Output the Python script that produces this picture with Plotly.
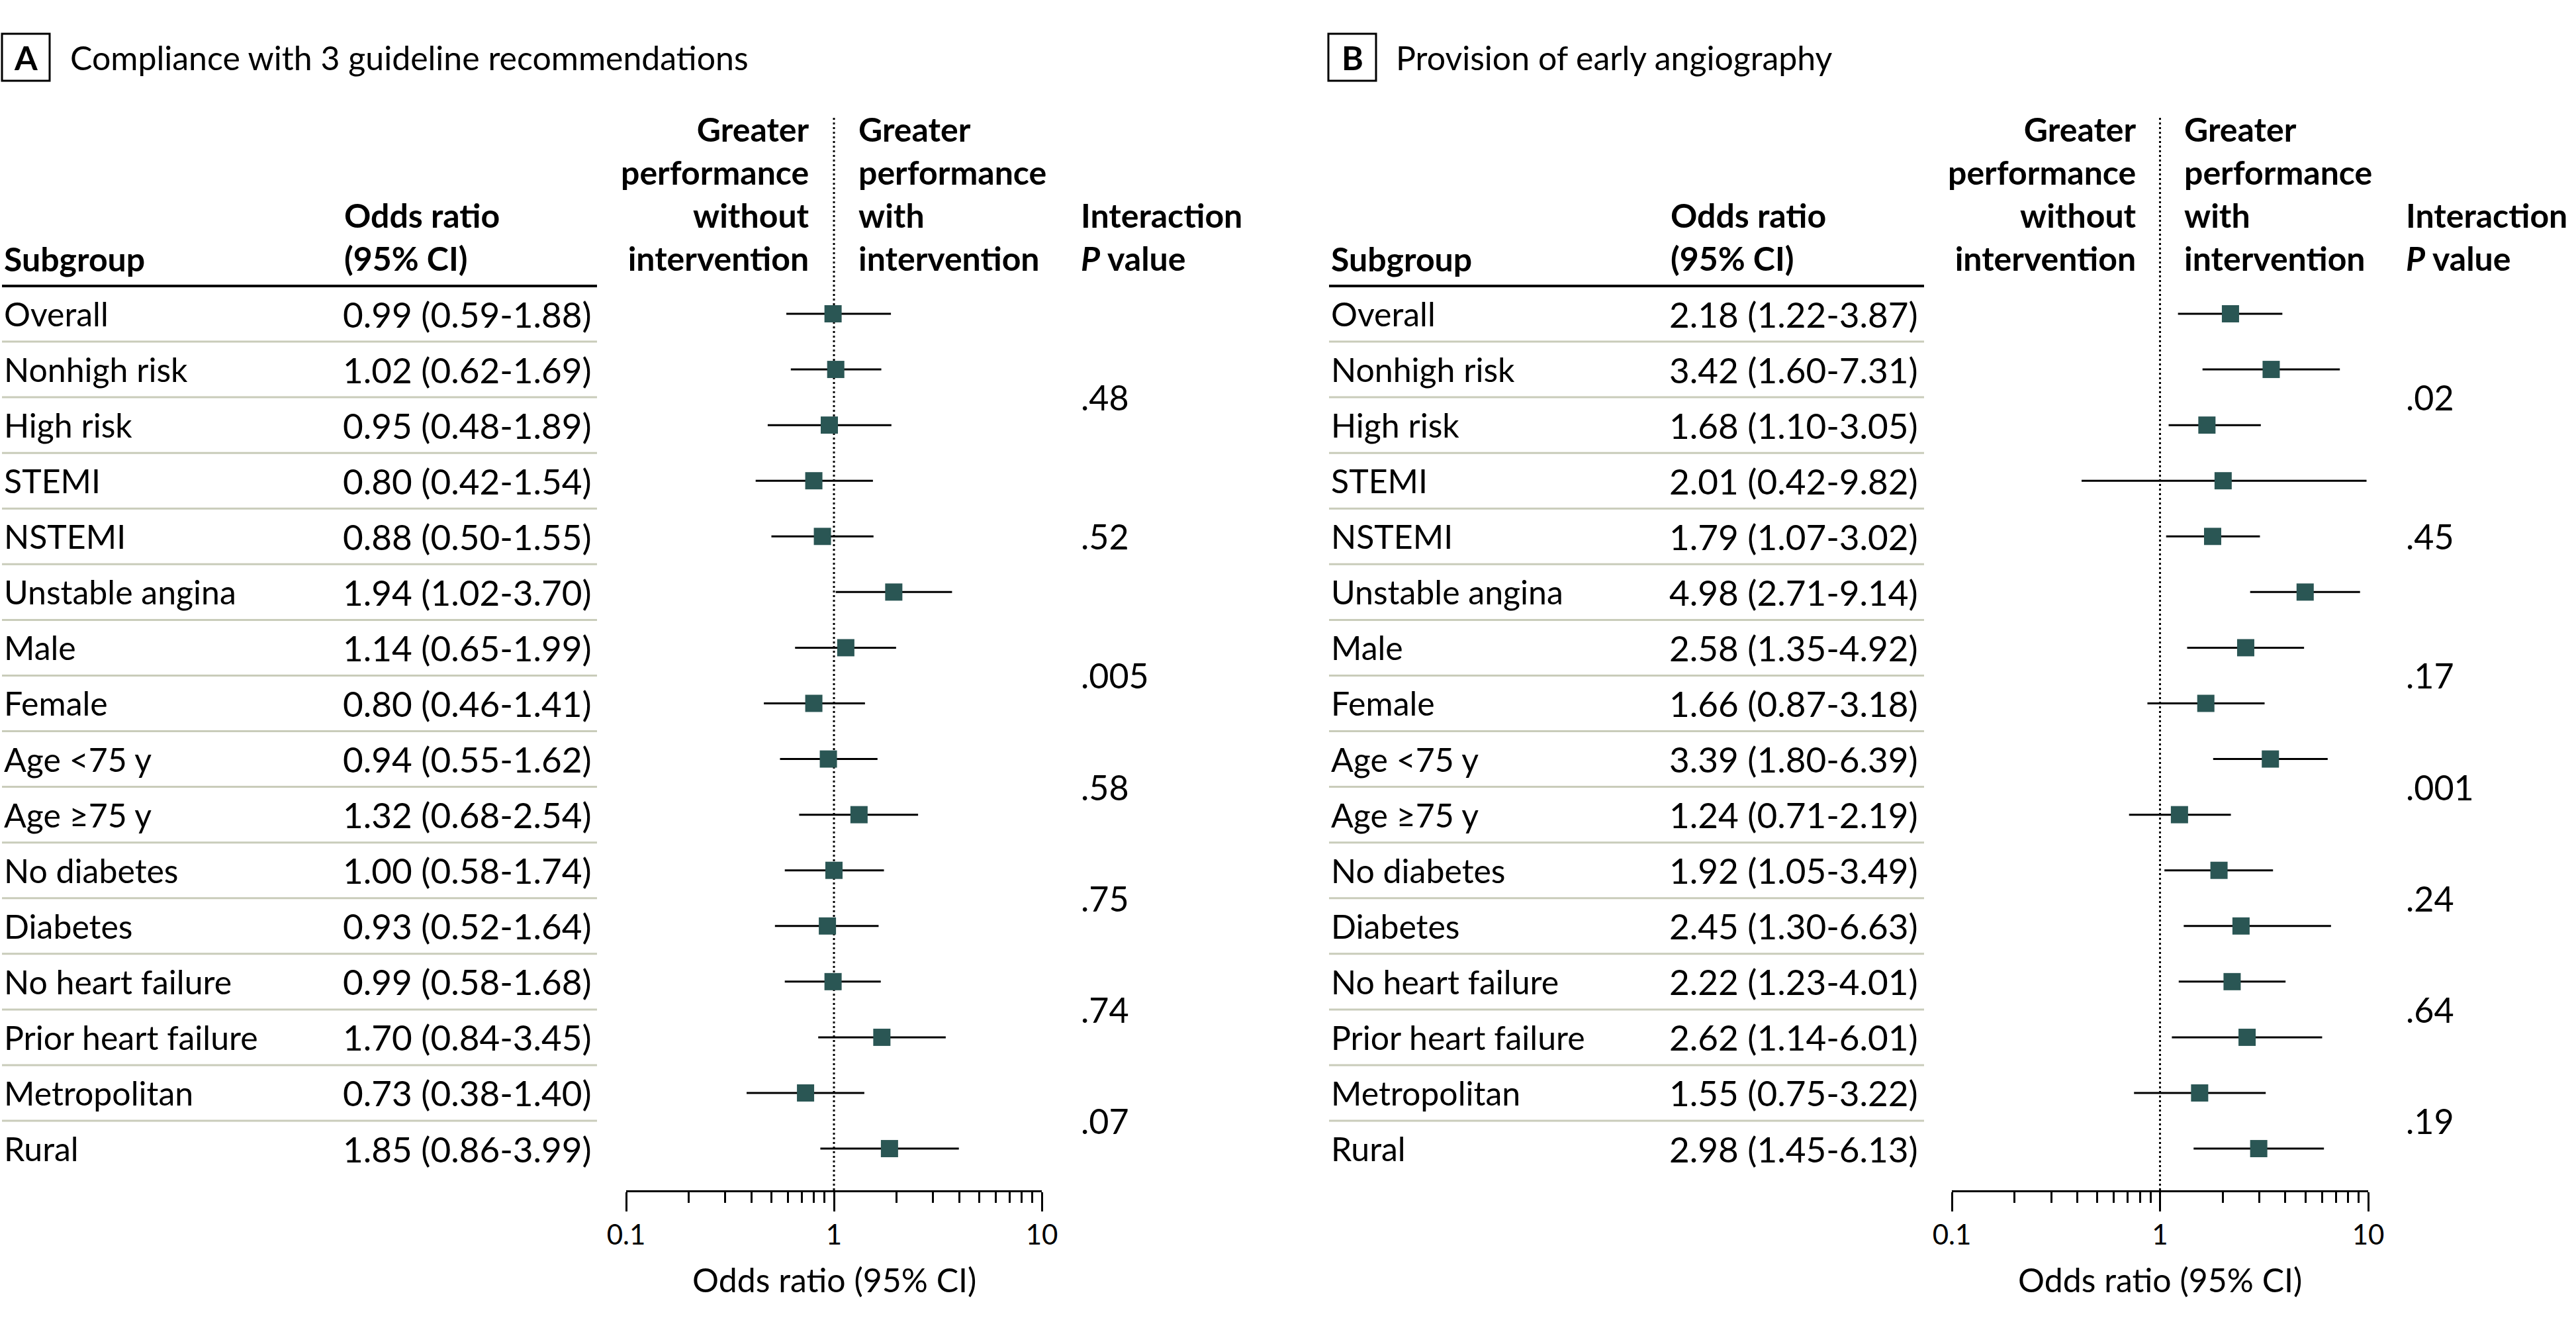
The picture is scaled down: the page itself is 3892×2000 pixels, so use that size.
import plotly.graph_objects as go

# ---------------- data ----------------
subgroups = ["Overall", "Nonhigh risk", "High risk", "STEMI", "NSTEMI", "Unstable angina",
             "Male", "Female", "Age <75 y", "Age ≥75 y", "No diabetes", "Diabetes",
             "No heart failure", "Prior heart failure", "Metropolitan", "Rural"]

a_or = [0.99, 1.02, 0.95, 0.80, 0.88, 1.94, 1.14, 0.80, 0.94, 1.32, 1.00, 0.93, 0.99, 1.70, 0.73, 1.85]
a_lo = [0.59, 0.62, 0.48, 0.42, 0.50, 1.02, 0.65, 0.46, 0.55, 0.68, 0.58, 0.52, 0.58, 0.84, 0.38, 0.86]
a_hi = [1.88, 1.69, 1.89, 1.54, 1.55, 3.70, 1.99, 1.41, 1.62, 2.54, 1.74, 1.64, 1.68, 3.45, 1.40, 3.99]

b_or = [2.18, 3.42, 1.68, 2.01, 1.79, 4.98, 2.58, 1.66, 3.39, 1.24, 1.92, 2.45, 2.22, 2.62, 1.55, 2.98]
b_lo = [1.22, 1.60, 1.10, 0.42, 1.07, 2.71, 1.35, 0.87, 1.80, 0.71, 1.05, 1.30, 1.23, 1.14, 0.75, 1.45]
b_hi = [3.87, 7.31, 3.05, 9.82, 3.02, 9.14, 4.92, 3.18, 6.39, 2.19, 3.49, 6.63, 4.01, 6.01, 3.22, 6.13]

# interaction P values and the (row) position between the rows of each pair
p_rows = [1.5, 4, 6.5, 8.5, 10.5, 12.5, 14.5]
a_p = [".48", ".52", ".005", ".58", ".75", ".74", ".07"]
b_p = [".02", ".45", ".17", ".001", ".24", ".64", ".19"]

tick_vals = [0.1, 1, 10]
tick_text = ["0.1", "1", "10"]
minor_ticks = [m * d for d in (0.1, 1) for m in range(2, 10)]

# ---------------- style / layout constants ----------------
W, H = 3892, 2000
FONT = "Lato, 'Open Sans', sans-serif"
TEAL = "#2a5654"
SEP = "#c9ccba"
FS = 50
FS_NUM = 53

ROW0_PX, ROW_STEP = 474, 84.07
AXIS_PX, TOP_PX = 1798, 175


def px(x):
    return x / W


def py(y):
    return 1 - y / H


def row_of(ypx):
    return (ypx - ROW0_PX) / ROW_STEP


Y_BOTTOM, Y_TOP = row_of(AXIS_PX), row_of(TOP_PX)

panels = [
    dict(letter="A", title="Compliance with 3 guideline recommendations",
         orv=a_or, lo=a_lo, hi=a_hi, pv=a_p, box=(3, 75), title_x=106, sub_x=6,
         rule=(3, 902), or_x=518, axis=(946, 1574), hl=1223, hr=1297, p_x=1633, xa="x"),
    dict(letter="B", title="Provision of early angiography",
         orv=b_or, lo=b_lo, hi=b_hi, pv=b_p, box=(2007, 2079), title_x=2109, sub_x=2011,
         rule=(2008, 2907), or_x=2522, axis=(2949, 3578), hl=3228, hr=3300, p_x=3635, xa="x2"),
]

fig = go.Figure()
annotations = []
shapes = []


def ann(text, x, y, xanchor="left", yanchor="middle", yref="paper", size=FS, align="left"):
    annotations.append(dict(text=text, x=x, y=y, xref="paper", yref=yref,
                            xanchor=xanchor, yanchor=yanchor, align=align, showarrow=False,
                            borderpad=0, borderwidth=0,
                            font=dict(family=FONT, size=size, color="black")))


rows = list(range(len(subgroups)))

for p in panels:
    xa = p["xa"]
    # reference line at OR = 1
    fig.add_trace(go.Scatter(x=[1, 1], y=[Y_BOTTOM, Y_TOP], mode="lines", xaxis=xa, yaxis="y",
                             line=dict(color="black", width=3, dash="3px,4px"),
                             hoverinfo="skip", showlegend=False))
    # odds ratios with CI
    fig.add_trace(go.Scatter(
        x=p["orv"], y=rows, mode="markers", xaxis=xa, yaxis="y", showlegend=False,
        marker=dict(symbol="square", size=26, color=TEAL, line=dict(width=0)),
        error_x=dict(type="data", symmetric=False,
                     array=[h - o for h, o in zip(p["hi"], p["orv"])],
                     arrayminus=[o - l for o, l in zip(p["orv"], p["lo"])],
                     width=0, thickness=3, color="black"),
    ))

    # title box and letter
    x0, x1 = p["box"]
    shapes.append(dict(type="rect", xref="paper", yref="paper", x0=px(x0), x1=px(x1),
                       y0=py(122), y1=py(51), line=dict(color="black", width=3)))
    ann("<b>%s</b>" % p["letter"], px((x0 + x1) / 2), py(87), xanchor="center")
    ann(p["title"], px(p["title_x"]), py(87))

    # column headers
    ann("<b>Subgroup</b>", px(p["sub_x"]), py(391))
    ann("<b>Odds ratio<br>(95% CI)</b>", px(p["or_x"] + 2), py(357))
    ann("<b>Greater<br>performance<br>without<br>intervention</b>", px(p["hl"]), py(292),
        xanchor="right", align="right")
    ann("<b>Greater<br>performance<br>with<br>intervention</b>", px(p["hr"]), py(292))
    ann("<b>Interaction<br><i>P</i> value</b>", px(p["p_x"]), py(357))

    # header rule
    r0, r1 = p["rule"]
    shapes.append(dict(type="line", xref="paper", yref="paper", x0=px(r0), x1=px(r1),
                       y0=py(432), y1=py(432), line=dict(color="black", width=4)))
    # row separators
    for i in rows[:-1]:
        shapes.append(dict(type="line", xref="paper", yref="y", x0=px(r0), x1=px(r1),
                           y0=i + 0.5, y1=i + 0.5, line=dict(color=SEP, width=3), layer="below"))

    # table text
    for i, name in enumerate(subgroups):
        ann(name, px(p["sub_x"]), i, yref="y")
        ann("%.2f (%.2f-%.2f)" % (p["orv"][i], p["lo"][i], p["hi"][i]), px(p["or_x"]), i,
            yref="y", size=FS_NUM)
    for r, t in zip(p_rows, p["pv"]):
        ann(t, px(p["p_x"]), r, yref="y", size=FS_NUM - 1)

    # axis title
    a0, a1 = p["axis"]
    ann("Odds ratio (95% CI)", px((a0 + a1) / 2), py(1933), xanchor="center")

axis_common = dict(
    type="log", range=[-1, 1], anchor="y", showline=True, linecolor="black", linewidth=3,
    ticks="outside", ticklen=29, tickwidth=3, tickcolor="black",
    tickvals=tick_vals, ticktext=tick_text,
    tickfont=dict(family=FONT, size=42, color="black"),
    showgrid=False, zeroline=False, fixedrange=True, automargin=False,
    minor=dict(tickvals=minor_ticks, ticks="outside", ticklen=16, tickwidth=3,
               tickcolor="black", showgrid=False),
)

fig.update_layout(
    width=W, height=H, autosize=False,
    margin=dict(l=0, r=0, t=0, b=0, pad=0, autoexpand=False),
    paper_bgcolor="white", plot_bgcolor="rgba(0,0,0,0)",
    font=dict(family=FONT, size=FS, color="black"),
    xaxis=dict(domain=[px(panels[0]["axis"][0]), px(panels[0]["axis"][1])], **axis_common),
    xaxis2=dict(domain=[px(panels[1]["axis"][0]), px(panels[1]["axis"][1])], **axis_common),
    yaxis=dict(range=[Y_BOTTOM, Y_TOP], domain=[py(AXIS_PX), py(TOP_PX)], visible=False,
               showgrid=False, zeroline=False, fixedrange=True, automargin=False),
    annotations=annotations, shapes=shapes, showlegend=False,
)

fig.write_html("out.html", config={"displayModeBar": False},
               post_script="document.body.style.margin='0';")
